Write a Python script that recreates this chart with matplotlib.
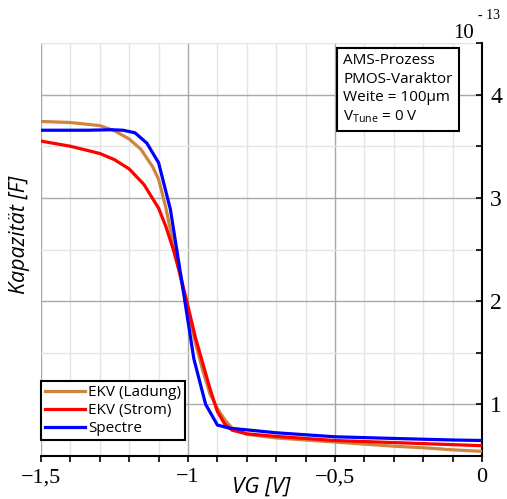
import numpy as np
import matplotlib
matplotlib.use("Agg")
import matplotlib.pyplot as plt
from matplotlib.ticker import MultipleLocator, FuncFormatter

# gate voltage [V] and capacitance [1e-13 F]
vg_ladung = [-1.5, -1.4, -1.3, -1.25, -1.2, -1.16, -1.12, -1.1, -1.075, -1.05, -1.025,
             -1.0, -0.975, -0.95, -0.925, -0.9, -0.875, -0.85, -0.8, -0.7, -0.6, -0.5,
             -0.4, -0.3, -0.2, -0.1, 0.0]
c_ladung = [3.74, 3.73, 3.70, 3.65, 3.57, 3.47, 3.30, 3.18, 2.90, 2.55, 2.22,
            1.90, 1.60, 1.33, 1.10, 0.96, 0.85, 0.77, 0.71, 0.675, 0.655, 0.635,
            0.615, 0.595, 0.58, 0.56, 0.545]

vg_strom = [-1.5, -1.4, -1.3, -1.25, -1.2, -1.15, -1.1, -1.075, -1.05, -1.025, -1.0,
            -0.975, -0.95, -0.925, -0.9, -0.875, -0.85, -0.8, -0.7, -0.6, -0.5, -0.4,
            -0.3, -0.2, -0.1, 0.0]
c_strom = [3.55, 3.50, 3.43, 3.37, 3.28, 3.13, 2.90, 2.72, 2.50, 2.24, 1.95,
           1.65, 1.40, 1.15, 0.93, 0.81, 0.75, 0.715, 0.69, 0.67, 0.65, 0.64,
           0.63, 0.62, 0.61, 0.60]

vg_spectre = [-1.5, -1.42, -1.34, -1.26, -1.22, -1.18, -1.14, -1.10, -1.06, -1.02, -0.98,
              -0.94, -0.90, -0.86, -0.7, -0.5, -0.3, -0.1, 0.0]
c_spectre = [3.655, 3.655, 3.655, 3.66, 3.655, 3.63, 3.53, 3.34, 2.89, 2.17, 1.44,
             1.0, 0.80, 0.77, 0.725, 0.686, 0.67, 0.655, 0.65]

xticks = [-1.5, -1.0, -0.5, 0.0]
yticks = [1, 2, 3, 4]

serif = "Liberation Serif"
sans = "Open Sans"

fig = plt.figure(figsize=(5.07, 4.99), dpi=100)
ax = fig.add_axes([41 / 507, 1 - 456 / 499, 441 / 507, 413 / 499])

ax.plot(vg_ladung, c_ladung, color="#CD853F", lw=2.3, label="EKV (Ladung)", zorder=3)
ax.plot(vg_strom, c_strom, color="#FF0000", lw=2.3, label="EKV (Strom)", zorder=3)
ax.plot(vg_spectre, c_spectre, color="#0000FF", lw=2.3, label="Spectre", zorder=4)

ax.set_xlim(-1.5, 0)
ax.set_ylim(0.5, 4.5)

ax.set_xticks(xticks)
ax.xaxis.set_minor_locator(MultipleLocator(0.1))
ax.set_yticks(yticks)
ax.yaxis.set_minor_locator(MultipleLocator(0.5))


def fmt_x(v, pos):
    s = ("%g" % v).replace(".", ",")
    return s.replace("-", "\u2212")


ax.xaxis.set_major_formatter(FuncFormatter(fmt_x))

ax.grid(True, which="major", color="#a8a8a8", lw=1.0, zorder=0)
ax.grid(True, which="minor", color="#e4e4e4", lw=1.0, zorder=0)
ax.set_axisbelow(True)

for side in ["left", "top"]:
    ax.spines[side].set_visible(False)
for side in ["bottom", "right"]:
    ax.spines[side].set_linewidth(1.5)

ax.yaxis.tick_right()
ax.yaxis.set_label_position("left")
ax.tick_params(axis="x", which="both", direction="out", length=4, width=1.2,
               pad=5, labelsize=16)
ax.tick_params(axis="y", which="both", direction="in", length=4, width=1.2,
               pad=6, labelsize=17, left=False, right=True)
for lab in ax.get_xticklabels() + ax.get_yticklabels():
    lab.set_fontfamily(serif)

ax.set_xlabel("VG [V]", fontsize=16, style="italic", family=sans)
ax.xaxis.set_label_coords(0.5, -0.05)
ax.set_ylabel("Kapazität [F]", fontsize=15.5, style="italic", family=sans)
ax.yaxis.set_label_coords(-0.026, 0.535)

leg = ax.legend(loc="lower left", bbox_to_anchor=(0, 0.039), borderaxespad=0,
                fancybox=False, framealpha=1, edgecolor="black",
                prop={"family": sans, "size": 11}, handlelength=2.6,
                handletextpad=0.25, borderpad=0.25, labelspacing=0.2)
leg.get_frame().set_linewidth(1.5)

ax.text(0.685, 0.975,
        "AMS-Prozess\nPMOS-Varaktor\nWeite = 100µm\nV$_\\mathregular{Tune}$ = 0 V",
        transform=ax.transAxes, ha="left", va="top", fontsize=11, family=sans,
        linespacing=1.3, zorder=5,
        bbox=dict(boxstyle="square,pad=0.4", fc="white", ec="black", lw=1.5))

fig.text(464 / 507, 1 - 38 / 499, "10", ha="center", va="baseline",
         fontsize=15, family=serif)
fig.text(478 / 507, 1 - 19 / 499, "- 13", ha="left", va="baseline",
         fontsize=10, family=serif)

fig.savefig("out.png", dpi=100)
